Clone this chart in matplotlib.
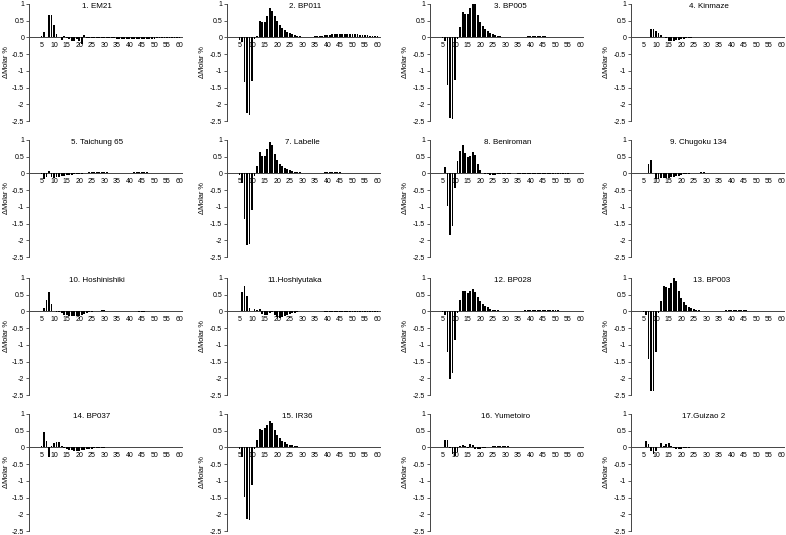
import matplotlib
matplotlib.use("Agg")
import matplotlib.pyplot as plt

plt.rcParams['font.family'] = ['Liberation Sans', 'DejaVu Sans']

# degree of polymerisation (x categories)
DP = list(range(5, 61))

# ΔMolar % per DP 5..60
EM21 = [0.03, 0.15, 0.00, 0.68, 0.66, 0.37,
        0.10, 0.02, -0.07, 0.04, -0.03, -0.05, -0.10, -0.12, -0.05, -0.12,
        -0.20, 0.07, -0.03, -0.02, -0.01, -0.02, -0.03, -0.02, -0.03, -0.03,
        -0.03, -0.02, -0.02, -0.03, -0.04, -0.04, -0.04, -0.05, -0.05, -0.05,
        -0.05, -0.05, -0.05, -0.05, -0.05, -0.04, -0.04, -0.04, -0.04, -0.04,
        -0.03, -0.03, -0.03, -0.03, -0.02, -0.02, -0.02, -0.02, -0.01, -0.01]
BP011 = [-0.08, -0.15, -1.33, -2.27, -2.32, -1.30,
         -0.05, 0.03, 0.48, 0.46, 0.47, 0.63, 0.87, 0.80, 0.65, 0.48,
         0.36, 0.28, 0.22, 0.17, 0.12, 0.09, 0.06, 0.04, 0.03, 0.02,
         0.02, 0.02, 0.02, 0.02, 0.03, 0.03, 0.04, 0.05, 0.06, 0.07,
         0.08, 0.09, 0.10, 0.10, 0.11, 0.11, 0.11, 0.11, 0.10, 0.10,
         0.09, 0.09, 0.08, 0.07, 0.07, 0.06, 0.05, 0.05, 0.04, 0.03]
BP005 = [-0.02, -0.10, -1.43, -2.40, -2.43, -1.28,
         -0.05, 0.30, 0.77, 0.70, 0.70, 0.87, 1.00, 1.00, 0.67, 0.47,
         0.33, 0.25, 0.19, 0.14, 0.10, 0.07, 0.05, 0.03, 0.02, 0.01,
         0.01, 0.00, 0.00, 0.00, 0.01, 0.01, 0.02, 0.02, 0.03, 0.03,
         0.03, 0.03, 0.03, 0.03, 0.03, 0.03, 0.02, 0.02, 0.02, 0.02,
         0.02, 0.02, 0.02, 0.02, 0.02, 0.01, 0.01, 0.01, 0.01, 0.01]
KINMAZE = [0.00, 0.00, 0.02, 0.25, 0.24, 0.18,
           0.12, 0.08, 0.01, -0.02, -0.10, -0.10, -0.10, -0.09, -0.08, -0.06,
           -0.04, -0.03, -0.02, -0.01, 0.00, 0.00, 0.01, 0.01, 0.01, 0.01,
           0.00, 0.00, 0.00, 0.00, 0.00, 0.00, 0.00, 0.00, 0.00, 0.00,
           0.00, 0.00, 0.00, 0.00, 0.00, 0.01, 0.01, 0.01, 0.01, 0.01,
           0.01, 0.01, 0.01, 0.01, 0.01, 0.01, 0.01, 0.01, 0.00, 0.00]
TAICHUNG65 = [-0.02, -0.18, -0.12, 0.07, -0.10, -0.15,
              -0.12, -0.10, -0.08, -0.07, -0.06, -0.05, -0.04, -0.03, -0.03, -0.02,
              -0.01, 0.00, 0.02, 0.04, 0.04, 0.05, 0.05, 0.04, 0.04, 0.03,
              0.03, 0.02, 0.02, 0.01, 0.01, 0.01, 0.01, 0.02, 0.02, 0.02,
              0.02, 0.03, 0.03, 0.03, 0.03, 0.03, 0.03, 0.02, 0.02, 0.02,
              0.02, 0.02, 0.02, 0.01, 0.01, 0.01, 0.01, 0.01, 0.01, 0.00]
LABELLE = [-0.05, -0.30, -1.37, -2.15, -2.12, -1.08,
           -0.08, 0.22, 0.63, 0.53, 0.53, 0.72, 0.93, 0.85, 0.57, 0.40,
           0.27, 0.22, 0.17, 0.13, 0.10, 0.07, 0.05, 0.04, 0.03, 0.02,
           0.01, 0.01, 0.00, 0.01, 0.01, 0.02, 0.02, 0.02, 0.03, 0.03,
           0.03, 0.03, 0.03, 0.03, 0.03, 0.02, 0.02, 0.02, 0.02, 0.02,
           0.02, 0.02, 0.02, 0.02, 0.02, 0.01, 0.00, 0.00, 0.00, 0.00]
BENIROMAN = [0.00, 0.20, -0.97, -1.83, -1.57, -0.45,
             0.38, 0.68, 0.85, 0.62, 0.50, 0.53, 0.65, 0.55, 0.27, 0.10,
             0.02, -0.02, -0.03, -0.04, -0.04, -0.04, -0.03, -0.03, -0.02, -0.02,
             -0.01, -0.01, 0.00, 0.00, -0.01, -0.01, -0.01, -0.01, -0.01, -0.01,
             -0.01, -0.01, -0.01, -0.01, -0.02, -0.02, -0.02, -0.02, -0.02, -0.02,
             -0.02, -0.02, -0.02, -0.01, -0.01, 0.00, 0.00, 0.00, 0.00, 0.00]
CHUGOKU134 = [0.00, 0.00, 0.27, 0.40, 0.00, -0.17,
              -0.17, -0.15, -0.13, -0.15, -0.15, -0.12, -0.10, -0.08, -0.07, -0.05,
              -0.03, -0.02, -0.01, 0.00, 0.01, 0.02, 0.02, 0.03, 0.03, 0.02,
              0.02, 0.02, 0.01, 0.01, 0.01, 0.01, 0.01, 0.01, 0.01, 0.01,
              0.01, 0.01, 0.01, 0.01, 0.01, 0.01, 0.01, 0.01, 0.01, 0.01,
              0.01, 0.01, 0.01, 0.01, 0.01, 0.01, 0.01, 0.01, 0.01, 0.00]
HOSHINISHIKI = [0.02, 0.10, 0.33, 0.57, 0.22, 0.02,
                -0.03, -0.02, -0.05, -0.10, -0.12, -0.13, -0.14, -0.14, -0.15, -0.14,
                -0.12, -0.08, -0.05, -0.03, -0.02, 0.00, 0.01, 0.02, 0.03, 0.03,
                0.02, 0.02, 0.02, 0.01, 0.01, 0.01, 0.01, 0.00, 0.00, 0.00,
                0.00, 0.00, 0.00, -0.01, -0.02, -0.01, 0.00, 0.00, 0.00, 0.00,
                0.00, 0.00, 0.00, 0.00, 0.00, 0.00, 0.00, 0.00, 0.00, 0.00]
HOSHIYUTAKA = [0.02, 0.58, 0.76, 0.45, 0.10, 0.02,
               0.07, 0.04, 0.07, -0.07, -0.10, -0.10, -0.05, -0.03, -0.10, -0.17,
               -0.20, -0.18, -0.15, -0.12, -0.09, -0.06, -0.04, -0.02, 0.01, 0.02,
               0.02, 0.02, 0.02, 0.02, 0.02, 0.01, 0.01, 0.00, -0.02, -0.02,
               -0.02, -0.02, -0.02, -0.02, -0.02, -0.02, -0.02, -0.02, -0.02, -0.02,
               -0.02, -0.02, -0.02, -0.02, -0.02, -0.01, -0.01, -0.01, -0.01, -0.01]
BP028 = [-0.03, -0.10, -1.20, -2.02, -1.85, -0.85,
         -0.05, 0.33, 0.60, 0.60, 0.55, 0.60, 0.67, 0.57, 0.42, 0.30,
         0.22, 0.17, 0.12, 0.08, 0.05, 0.04, 0.03, 0.02, 0.02, 0.01,
         0.01, 0.01, 0.00, 0.01, 0.01, 0.02, 0.02, 0.03, 0.03, 0.03,
         0.04, 0.04, 0.04, 0.04, 0.03, 0.03, 0.03, 0.03, 0.03, 0.03,
         0.03, 0.02, 0.02, 0.02, 0.02, 0.02, 0.01, 0.01, 0.01, 0.01]
BP003 = [-0.03, -0.10, -1.42, -2.37, -2.37, -1.22,
         -0.05, 0.32, 0.77, 0.72, 0.70, 0.85, 0.99, 0.92, 0.62, 0.41,
         0.28, 0.20, 0.14, 0.10, 0.07, 0.05, 0.03, 0.02, 0.01, 0.01,
         0.01, 0.01, 0.01, 0.02, 0.02, 0.02, 0.02, 0.03, 0.03, 0.03,
         0.03, 0.04, 0.03, 0.03, 0.03, 0.03, 0.02, 0.02, 0.02, 0.02,
         0.02, 0.02, 0.02, 0.02, 0.02, 0.01, 0.01, 0.01, 0.01, 0.01]
BP037 = [0.05, 0.45, 0.20, -0.30, 0.05, 0.12,
         0.15, 0.15, 0.05, -0.02, -0.05, -0.07, -0.08, -0.10, -0.10, -0.10,
         -0.09, -0.08, -0.06, -0.05, -0.04, -0.03, -0.02, -0.02, -0.01, -0.01,
         0.00, 0.00, 0.01, 0.01, 0.01, 0.01, 0.01, 0.01, 0.01, 0.01,
         0.01, 0.01, 0.01, 0.01, 0.01, 0.01, 0.01, 0.01, 0.01, 0.01,
         0.01, 0.01, 0.01, 0.01, 0.01, 0.01, 0.01, 0.00, 0.00, 0.00]
IR36 = [-0.05, -0.30, -1.48, -2.15, -2.18, -1.12,
        -0.05, 0.22, 0.55, 0.53, 0.58, 0.68, 0.78, 0.72, 0.52, 0.38,
        0.28, 0.20, 0.15, 0.11, 0.08, 0.06, 0.04, 0.03, 0.02, 0.02,
        0.01, 0.01, 0.01, 0.01, 0.01, 0.02, 0.02, 0.02, 0.02, 0.02,
        0.02, 0.02, 0.02, 0.02, 0.02, 0.02, 0.02, 0.02, 0.02, 0.02,
        0.02, 0.01, 0.01, 0.01, 0.01, 0.01, 0.01, 0.01, 0.01, 0.01]
YUMETOIRO = [0.00, 0.22, 0.22, -0.02, -0.20, -0.27,
             -0.15, 0.03, 0.06, 0.05, -0.03, 0.10, 0.08, -0.05, -0.05, -0.04,
             -0.03, -0.02, 0.00, 0.02, 0.03, 0.04, 0.04, 0.04, 0.03, 0.03,
             0.03, 0.02, 0.02, 0.02, 0.01, 0.01, 0.01, 0.01, 0.01, 0.01,
             0.01, 0.01, 0.01, 0.01, 0.01, 0.01, 0.01, 0.01, 0.01, 0.01,
             0.01, 0.01, 0.01, 0.01, 0.01, 0.01, 0.01, 0.01, 0.00, 0.00]
GUIZAO2 = [0.00, 0.20, 0.10, -0.12, -0.20, -0.10,
           0.02, 0.12, 0.05, 0.10, 0.12, 0.05, -0.03, -0.05, -0.05, -0.04,
           -0.03, -0.02, -0.01, 0.00, 0.01, 0.01, 0.01, 0.01, 0.01, 0.01,
           0.01, 0.01, 0.01, 0.01, 0.01, 0.01, 0.01, 0.01, 0.01, 0.01,
           0.01, 0.01, 0.01, 0.01, 0.01, 0.01, 0.01, 0.01, 0.01, 0.01,
           0.01, 0.01, 0.01, 0.01, 0.01, 0.01, 0.01, 0.00, 0.00, 0.00]

TITLES = ["1. EM21", "2. BP011", "3. BP005", "4. Kinmaze",
          "5. Taichung 65", "7. Labelle", "8. Beniroman", "9. Chugoku 134",
          "10. Hoshinishiki", "11.Hoshiyutaka", "12. BP028", "13. BP003",
          "14. BP037", "15. IR36", "16. Yumetoiro", "17.Guizao 2"]
SERIES = [EM21, BP011, BP005, KINMAZE,
          TAICHUNG65, LABELLE, BENIROMAN, CHUGOKU134,
          HOSHINISHIKI, HOSHIYUTAKA, BP028, BP003,
          BP037, IR36, YUMETOIRO, GUIZAO2]
Y_TICKS = [1, 0.5, 0, -0.5, -1, -1.5, -2, -2.5]

# layout (pixels)
W, H = 786, 535
COL_X = [29, 227, 430, 631]
ROW_TOP = [4, 140, 278, 414]
AX_W, AX_H = 153, 117
TITLE_X = [27, 31, 32, 31, 27, 30, 31, 27, 27, 27, 33, 32, 25, 28, 30, 29]

fig = plt.figure(figsize=(W / 100, H / 100), dpi=100)

for i, (title, vals) in enumerate(zip(TITLES, SERIES)):
    r, c = divmod(i, 4)
    ax = fig.add_axes([COL_X[c] / W, 1 - (ROW_TOP[r] + AX_H) / H,
                       AX_W / W, AX_H / H])
    ax.patch.set_alpha(0)
    ax.bar(DP, vals, width=0.72, color="black", zorder=3)
    ax.set_xlim(0, 61)
    ax.set_ylim(-2.5, 1)

    for s in ("top", "right"):
        ax.spines[s].set_visible(False)
    ax.spines["bottom"].set_position(("data", 0))
    for s in ("bottom", "left"):
        ax.spines[s].set_color("#444444")
        ax.spines[s].set_linewidth(0.7)

    ax.set_xticks(range(5, 61, 5))
    ax.set_yticks(Y_TICKS)
    ax.set_yticklabels([f"{v:g}" for v in Y_TICKS])
    ax.tick_params(axis="x", length=0, pad=3, labelsize=5)
    ax.tick_params(axis="y", length=2, width=0.6, pad=1.5, labelsize=5,
                   color="#444444")
    ax.set_ylabel("ΔMolar %", fontsize=5.3, labelpad=1 if c == 0 else 3)
    ax.text(TITLE_X[i], 0.93, title, ha="center", va="center", fontsize=5.8)

fig.savefig("out.png", dpi=100)
